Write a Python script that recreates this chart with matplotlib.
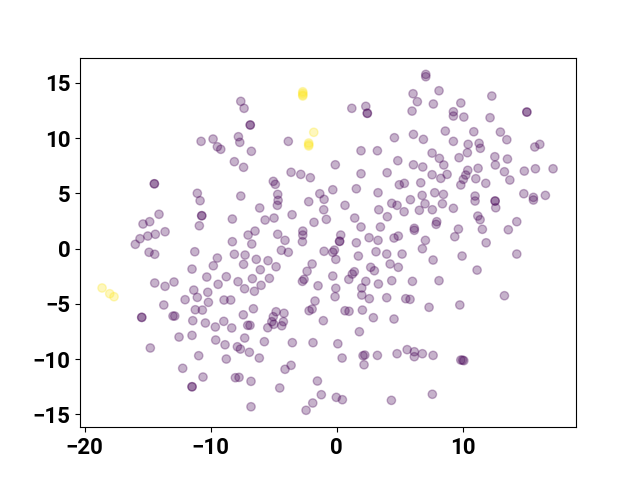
import numpy as np
import matplotlib
matplotlib.use("Agg")
import matplotlib.pyplot as plt

plt.rcParams['font.family'] = ['Roboto', 'DejaVu Sans']
plt.rcParams['font.weight'] = 'bold'
plt.rcParams['font.size'] = 16

# class 0 points (purple)
x0 = [-7.60, -7.34, -6.85, -6.85, -10.75, -9.80, -9.46, -9.19, -7.79, -7.68,
      -6.76, -8.11, -7.38, -14.46, -14.46, -11.05, -10.83, -7.60, -10.70, -10.70,
      -10.89, -8.27, -14.09, -15.36, -14.83, -15.60, -14.98, -14.38, -13.61, -15.97,
      -8.27, -7.02,
      6.07, 1.21, 2.32, 2.44, 2.44, 5.99, -3.83, 4.59, 6.10, 1.94, 3.24, -0.10,
      4.86, 6.10, -3.61, -2.84, -2.08, 1.94, 4.01, -5.02, -4.86, 4.98, 5.38,
      -4.67, -4.64, -4.70, -1.33, -0.99, -0.30, 1.57, 3.29, -2.21, 0.67, 4.38,
      4.80, 5.86, -6.10, -3.53, -1.02, 3.35, 5.36, -4.96, -5.67, -1.79, -0.81,
      1.44, 4.03, 1.94, 3.48, 6.17, 6.17, -6.47, -4.67, -2.68, -2.68, -2.71,
      0.33, 0.24, 0.24, 2.58, 3.29, 4.56, 4.90, -4.09, -6.73, 1.57,
      7.08, 7.08, 8.13, 6.41, 7.68, 9.86, 12.32, 15.10, 15.10, 9.27, 9.27, 10.10,
      12.18, 6.89, 8.63, 9.27, 10.89, 10.44, 11.31, 11.41, 13.00, 13.51, 15.73,
      16.13, 7.58, 8.16, 8.51, 9.72, 10.38, 12.56, 13.56, 12.60, 6.84, 7.58,
      8.27, 8.77, 10.41, 10.25, 10.06, 9.86, 11.23, 11.05, 11.84, 13.32, 13.75,
      14.90, 15.78, 17.18, 6.68, 6.79, 7.79, 8.48, 7.02, 8.40, 10.99, 10.99,
      12.58, 12.58, 12.63, 14.86, 15.62, 15.62, 16.57, 6.57, 7.60, 9.27, 11.21,
      11.39, 7.95, 7.90, 9.67, 11.57, 14.30, 13.63, 9.38, 7.05, 11.87,
      6.81, 7.66, 9.96, 14.30, 11.15, 6.02, 8.13, 13.32, 5.83, 7.34, 9.78, 6.17,
      6.17, 6.81, 7.66, 5.60, 9.86, 10.00, 10.10, 7.60,
      -7.26, -4.38, -3.83, -0.99, -0.30, -0.17, -0.06, 1.73, 3.13, 3.98, 5.20,
      -6.37, -5.44, -4.80, -6.05, -7.38, -1.94, -2.34, -0.30, -2.58, -2.71, -1.47,
      -6.68, -5.33, -5.99, -6.52, -7.30, 1.41, 1.25, 0.97, 2.71, 3.00, 2.32,
      2.00, 2.00, 3.32, 4.38, 4.25, 4.90, 2.60, 3.98, 5.49, -0.06, -0.12, -1.71,
      -2.18, -1.94, 0.67, 0.99, 2.05, -1.05, 2.92, 4.56, 1.81, -6.60, -7.40,
      -4.80, -4.17, -5.02, -5.14, -4.22, -4.35, -4.98, -5.46, -7.05, -6.87,
      -7.29, -5.73, -3.51, -1.87, 0.10, -6.92, -6.13, 0.44, 2.10, 2.24, 2.18,
      3.24, 4.80, -4.09, -3.61, -6.79, -4.51, -1.52, -1.21, -1.89, -2.42, -0.02,
      0.46, 4.35, -6.79,
      -14.88, -14.43, -11.25, -9.46, -9.78, -8.11, -11.47, -10.30, -8.75, -7.82,
      -9.40, -14.43, -13.61, -12.90, -11.33, -10.22, -11.05, -12.02, -10.17,
      -8.93, -8.40, -13.71, -11.21, -10.65, -12.98, -12.84, -15.46, -15.46,
      -11.41, -10.41, -8.95, -9.62, -8.32, -12.50, -11.47, -9.59, -8.85, -7.87,
      -7.63, -14.78, -10.94, -8.75, -12.21, -10.60, -8.03, -7.74, -11.47, -11.47]
y0 = [13.32, 12.69, 11.18, 11.18, 9.70, 9.91, 9.21, 8.98, 10.12, 9.61,
      8.80, 7.86, 7.35, 5.86, 5.86, 5.00, 4.33, 4.75, 2.97, 2.97,
      2.06, 2.67, 3.10, 2.22, 2.43, 0.89, 1.13, 1.29, 1.52, 0.38,
      0.62, 1.22,
      14.01, 12.69, 12.87, 12.24, 12.24, 12.44, 9.70, 10.03, 10.33, 8.85, 8.85, 7.58,
      7.95, 7.58, 6.90, 6.71, 6.41, 6.77, 6.86, 6.08, 5.81, 5.77, 5.90,
      4.90, 4.36, 3.91, 4.96, 4.45, 5.32, 5.41, 5.05, 4.24, 3.91, 4.09,
      3.91, 4.42, 3.67, 3.06, 3.51, 3.51, 3.33, 2.76, 2.58, 2.37, 2.64,
      2.76, 2.88, 1.95, 1.95, 1.83, 1.65, 1.58, 1.29, 1.58, 1.22, 0.62,
      1.22, 0.65, 0.65, 0.98, 0.74, 0.95, 1.13, 0.74, 0.41, 0.52,
      15.76, 15.55, 14.28, 13.29, 13.08, 13.17, 13.80, 12.35, 12.35, 12.38, 11.99, 11.90,
      11.84, 9.88, 10.63, 9.70, 10.57, 9.43, 9.52, 9.07, 10.54, 9.85, 9.19,
      9.43, 8.64, 8.16, 7.56, 8.22, 8.67, 8.31, 8.10, 7.56, 7.38, 6.68,
      6.35, 6.71, 7.08, 6.65, 6.26, 5.75, 7.26, 6.32, 5.90, 6.95, 6.20,
      7.01, 7.22, 7.22, 5.95, 4.81, 5.05, 4.90, 4.05, 4.05, 4.75, 4.30,
      4.30, 4.30, 3.69, 4.96, 4.63, 4.39, 4.81, 3.46, 3.51, 3.64, 2.94,
      2.61, 2.43, 2.19, 1.76, 1.74, 2.43, 1.70, 1.07, 0.74, 0.52,
      -0.02, -1.04, -0.68, -0.50, -1.95, -2.97, -2.91, -4.27, -4.60, -5.32, -5.11, -9.34,
      -9.79, -9.52, -9.67, -9.15, -10.09, -10.10, -10.15, -13.19,
      -0.59, -0.16, -0.34, -0.25, -0.34, -0.14, -0.98, -0.68, -0.29, -0.50, -0.50,
      -0.98, -1.10, -1.65, -1.92, -1.43, -1.40, -2.06, -2.49, -2.79, -2.97, -3.37,
      -2.73, -2.70, -3.33, -3.87, -3.64, -2.10, -2.31, -2.79, -1.70, -2.01, -2.97,
      -3.57, -4.21, -3.21, -2.91, -1.40, -1.70, -4.54, -4.45, -4.54, -3.60, -4.36, -4.75,
      -5.63, -5.48, -5.63, -5.68, -5.57, -6.53, -6.26, -6.38, -7.53, -5.45, -6.00,
      -5.72, -5.86, -6.17, -6.62, -6.62, -6.99, -6.86, -7.17, -6.95, -6.95,
      -8.10, -8.43, -8.52, -8.52, -8.62, -9.39, -9.91, -9.91, -9.70, -9.64, -10.52,
      -9.67, -9.52, -10.93, -10.57, -12.02, -12.62, -11.99, -13.23, -13.98, -14.64, -13.47,
      -13.68, -13.74, -14.32,
      -0.34, -0.52, -0.29, -0.86, -1.56, -0.52, -1.86, -2.58, -2.55, -3.00,
      -3.24, -3.12, -3.42, -3.03, -3.76, -3.96, -4.42, -4.63, -4.87,
      -4.66, -4.66, -5.11, -5.54, -5.57, -6.11, -6.11, -6.23, -6.23,
      -6.53, -6.74, -6.59, -7.10, -7.19, -8.01, -7.86, -8.28, -8.71, -8.89,
      -9.10, -9.00, -9.70, -10.00, -10.84, -11.63, -11.69, -11.66, -12.51, -12.51]

# class 1 points (yellow)
x1 = [-2.68, -2.68, -2.68, -2.68, -1.81, -2.21, -2.21, -2.21, -18.61, -18.00, -17.66]
y1 = [14.19, 14.05, 13.90, 13.80, 10.52, 9.55, 9.40, 9.28, -3.57, -4.09, -4.36]

x = np.array(x0 + x1)
y = np.array(y0 + y1)
labels = np.array([0] * len(x0) + [1] * len(x1))

fig, ax = plt.subplots(figsize=(6.4, 4.8), dpi=100)
ax.scatter(x, y, c=labels, cmap='viridis', alpha=0.3)
ax.set_xlim(-20.36, 19.0)
ax.set_ylim(-16.17, 17.28)
ax.set_xticks([-20, -10, 0, 10])
ax.set_yticks([-15, -10, -5, 0, 5, 10, 15])
fig.savefig('out.png')
